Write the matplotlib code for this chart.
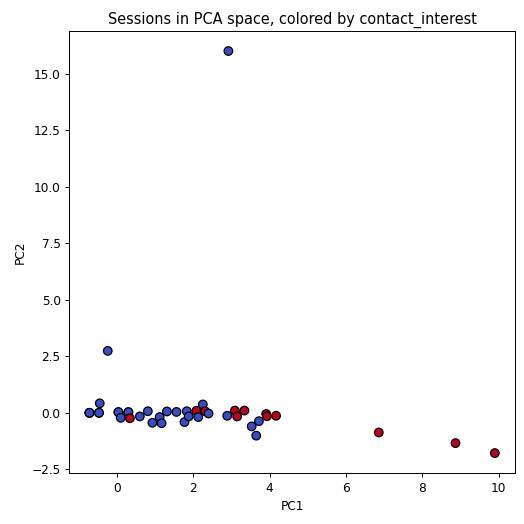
import matplotlib
matplotlib.use("Agg")
import matplotlib.pyplot as plt
import numpy as np

# PCA coordinates, with the contact_interest label (0/1)
pc1 = [-0.72, -0.72, -0.72, -0.47, -0.47, -0.45, 0.04, 0.04, 0.10, 0.30,
       0.30, 0.34, 0.60, 0.81, 0.93, 1.12, 1.17, 1.31, 1.56, 1.83,
       1.77, 1.88, 2.08, 2.13, 2.25, 2.31, 2.40, 2.89, 3.09, 3.15,
       3.34, 3.53, 3.65, 3.72, 3.91, 3.93, 4.17, 6.86, 8.87, 9.90,
       -0.24, 2.92]
pc2 = [0.00, 0.00, 0.00, 0.00, 0.00, 0.42, 0.03, 0.03, -0.22, 0.03,
       0.03, -0.24, -0.16, 0.07, -0.44, -0.19, -0.46, 0.06, 0.04, 0.07,
       -0.41, -0.16, 0.09, -0.19, 0.37, 0.07, -0.03, -0.13, 0.10, -0.16,
       0.10, -0.60, -1.01, -0.37, -0.05, -0.15, -0.13, -0.87, -1.34, -1.78,
       2.74, 16.00]
contact_interest = [0, 0, 0, 0, 0, 0, 0, 0, 0, 0,
                    0, 1, 0, 0, 0, 0, 0, 0, 0, 0,
                    0, 0, 1, 0, 0, 1, 0, 0, 1, 1,
                    1, 0, 0, 0, 1, 1, 1, 1, 1, 1,
                    0, 0]

fig, ax = plt.subplots(figsize=(6, 6), dpi=524 / 6)
ax.scatter(pc1, pc2, c=contact_interest, cmap="coolwarm", edgecolors="k", s=50)
ax.set_xlabel("PC1")
ax.set_ylabel("PC2")
ax.set_title("Sessions in PCA space, colored by contact_interest")
fig.subplots_adjust(left=0.132, right=0.983, bottom=0.097, top=0.941)
fig.savefig("out.png")
